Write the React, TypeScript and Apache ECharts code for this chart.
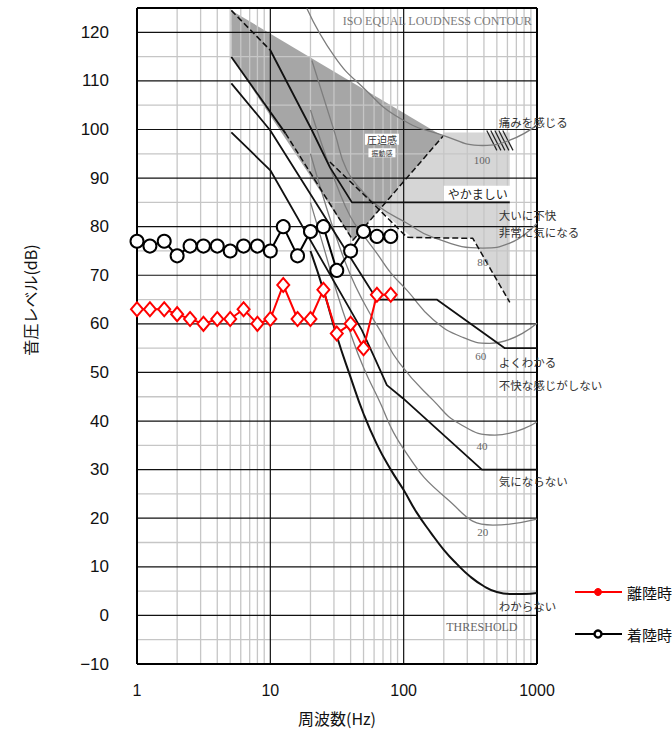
import { useEffect, useRef } from 'react';
import * as echarts from 'echarts';

// ---- measured series (1/3 octave bands) ----
const freqs = [1, 1.25, 1.6, 2, 2.5, 3.15, 4, 5, 6.3, 8, 10, 12.5, 16, 20, 25, 31.5, 40, 50, 63, 80];
const takeoff = [63, 63, 63, 62, 61, 60, 61, 61, 63, 60, 61, 68, 61, 61, 67, 58, 60, 55, 66, 66];
const landing = [77, 76, 77, 74, 76, 76, 76, 75, 76, 76, 75, 80, 74, 79, 80, 71, 75, 79, 78, 78];

// ---- axes ----
const xMin = 1, xMax = 1000, yMin = -10, yMax = 125;
const minorFreqs = [2, 3, 4, 5, 6, 7, 8, 9, 20, 30, 40, 50, 60, 70, 80, 90, 200, 300, 400, 500, 600, 700, 800, 900];
const majorFreqs = [10, 100];
const minorLevels = [-5, 5, 15, 25, 35, 45, 55, 65, 75, 85, 95, 105, 115];
const majorLevels = [0, 10, 20, 30, 40, 50, 60, 70, 80, 90, 100, 110, 120];
const frameFreqs = [1, 1000];
const frameLevels = [-10, 125];

// ---- background zones [Hz, dB] ----
const pressureZone = [[5.1, 124.5], [5.1, 114.9], [41.6, 77.2], [197, 98.6]];
const noisyZone = [[197, 99.4], [625, 99.4], [625, 64.5], [330, 77.6], [117, 77.6], [66.3, 83.6], [197, 98.6]];

// ---- ISO equal loudness contours [Hz, dB] ----
const phon100 = [[18.8, 124.9], [30.5, 114.9], [49.4, 108.7], [93.7, 102.3], [197, 98.8], [392, 96.7], [625, 97.8], [1000, 100.9]];
const phon80 = [[20.5, 114.2], [30.5, 99.2], [37.5, 91.6], [49.4, 87.2], [66.3, 84], [106, 80.7], [166, 77.8], [392, 75.6], [625, 76.6], [1000, 80.7]];
const phon60 = [[20, 104], [25, 96], [31.5, 88.5], [40, 82], [50, 78.2], [63, 74.5], [80, 70.5], [106, 66.9], [166, 60.9], [278, 57.2], [443, 56], [1000, 60.1]];
const phon40 = [[20, 95], [25, 86], [31.5, 77.5], [40, 70], [50, 64.5], [66.3, 58.7], [93.7, 51.8], [166, 44.3], [264, 39.4], [483, 37.1], [1000, 39.8]];
const phon20 = [[20, 85], [25, 76], [31.5, 66.5], [40, 58], [50, 51], [63, 45.2], [98.6, 34.5], [211, 24], [467, 18.6], [1000, 19.8]];
const threshold = [[20, 75], [25, 67], [31.5, 57.5], [40, 49], [50, 41.5], [63, 35.2], [80, 30], [100, 25.8], [125, 21.2], [160, 17], [200, 13.5], [250, 10.6], [315, 8], [400, 6], [500, 4.8], [630, 4.4], [800, 4.4], [1000, 4.6]];

// ---- response boundaries [Hz, dB] ----
const ooiDash = [[5.1, 124.5], [10, 116.3]];
const ooiLine = [[10, 116.3], [20.2, 100.2], [28, 92.2], [40.9, 85], [625, 85]];
const edgeSolid = [[5.1, 114.9], [13, 99.2]];
const edgeDash = [[13, 99.2], [41.6, 77.2], [197, 98.6]];
const noisyDash = [[28, 93.3], [55.8, 85.4], [106, 77.8], [330, 77.6], [625, 64.4]];
const yokuLine = [[5.1, 109.5], [10, 99.8], [63, 65], [177, 65], [574, 55], [1000, 55]];
const kiniLine = [[5.1, 99.4], [10, 91.6], [48.6, 58.7], [60.8, 52.9], [74.8, 47.4], [98.6, 44.7], [386, 30], [1000, 30]];
const painHatch = [[420, 99.8, 500, 95.7], [450, 99.8, 536, 95.7], [483, 99.8, 574, 95.7], [517, 99.8, 615, 95.7], [554, 99.8, 661, 95.7]];

// ---- annotations [Hz, dB, text, kind] ----
const notes: [number, number, string, string][] = [
  [914, 122.4, 'ISO EQUAL LOUDNESS CONTOUR', 'isoTitle'],
  [68.7, 98.0, '圧迫感', 'boxBig'],
  [68.7, 95.2, '振動感', 'boxSmall'],
  [386, 93.7, '100', 'num'],
  [360, 86.9, 'やかましい', 'boxMid'],
  [517, 101.5, '痛みを感じる', 'jp'],
  [517, 82.3, '大いに不快', 'jp'],
  [517, 78.8, '非常に気になる', 'jp'],
  [392, 72.7, '80', 'num'],
  [379, 53.3, '60', 'num'],
  [517, 52.1, 'よくわかる', 'jp'],
  [517, 47.4, '不快な感じがしない', 'jp'],
  [386, 34.8, '40', 'num'],
  [517, 27.6, '気にならない', 'jp'],
  [392, 17.1, '20', 'num'],
  [517, 1.9, 'わからない', 'jp'],
  [386, -2.4, 'THRESHOLD', 'numC'],
];

const SERIF = '"Liberation Serif", "DejaVu Serif", serif';
const JP = '"Noto Sans CJK JP", sans-serif';

type GridLine = { dir: 'v' | 'h'; v: number; color: string; width: number };
const gridLines: GridLine[] = [
  ...minorFreqs.map((v) => ({ dir: 'v' as const, v, color: '#c6c6c6', width: 1.3 })),
  ...minorLevels.map((v) => ({ dir: 'h' as const, v, color: '#c6c6c6', width: 1.3 })),
  ...majorFreqs.map((v) => ({ dir: 'v' as const, v, color: '#111', width: 1.2 })),
  ...majorLevels.map((v) => ({ dir: 'h' as const, v, color: '#111', width: 1.2 })),
  ...frameFreqs.map((v) => ({ dir: 'v' as const, v, color: '#000', width: 2 })),
  ...frameLevels.map((v) => ({ dir: 'h' as const, v, color: '#000', width: 2 })),
];

function curve(name: string, data: number[][], color: string, width: number, smooth: boolean, dashed = false) {
  return {
    name,
    type: 'line',
    data,
    showSymbol: false,
    symbol: 'none',
    smooth: smooth ? 0.5 : false,
    silent: true,
    z: 3,
    clip: true,
    lineStyle: { color, width, type: dashed ? [6, 3] : 'solid' },
  };
}

export default function App() {
  const ref = useRef<HTMLDivElement>(null);
  useEffect(() => {
    if (!ref.current) return;
    const chart = echarts.init(ref.current, null, { renderer: 'svg' });
    const zones = [
      { pts: noisyZone, fill: '#d6d6d6' },
      { pts: pressureZone, fill: '#a6a6a6' },
    ];
    const noteStyle = (kind: string) => {
      switch (kind) {
        case 'isoTitle':
          return { font: `12px ${SERIF}`, fill: '#7a7a7a', align: 'right' };
        case 'boxBig':
          return { font: `10px ${JP}`, fill: '#333', align: 'center', backgroundColor: '#fff', padding: [0, 2, 0, 2], lineHeight: 11 };
        case 'boxSmall':
          return { font: `7px ${JP}`, fill: '#333', align: 'center', backgroundColor: '#fff', padding: [0, 3, 1, 3], lineHeight: 8 };
        case 'boxMid':
          return { font: `12px ${JP}`, fill: '#222', align: 'center', backgroundColor: '#fff', padding: [2, 4, 1, 4] };
        case 'num':
          return { font: `11px ${SERIF}`, fill: '#666', align: 'center' };
        case 'numC':
          return { font: `12px ${SERIF}`, fill: '#666', align: 'center' };
        default:
          return { font: `11.5px ${JP}`, fill: '#333', align: 'left' };
      }
    };
    chart.setOption({
      animation: false,
      grid: { left: 137, right: 135, top: 8, bottom: 76, containLabel: false },
      xAxis: {
        type: 'log',
        logBase: 10,
        min: xMin,
        max: xMax,
        axisLine: { show: false },
        axisTick: { show: false },
        splitLine: { show: false },
        minorSplitLine: { show: false },
        axisLabel: {
          fontSize: 16,
          color: '#111',
          margin: 18,
          fontFamily: '"Liberation Sans", Arial, sans-serif',
          formatter: (v: number) => String(Math.round(v)),
        },
      },
      yAxis: {
        type: 'value',
        min: yMin,
        max: yMax,
        interval: 10,
        axisLine: { show: false },
        axisTick: { show: false },
        splitLine: { show: false },
        axisLabel: {
          fontSize: 17,
          color: '#111',
          margin: 28,
          fontFamily: '"Liberation Sans", Arial, sans-serif',
          formatter: (v: number) => (v > 120 ? '' : v < 0 ? '\u2212' + Math.abs(v) : String(v)),
        },
      },
      graphic: [
        { type: 'text', x: 30, y: 300, rotation: Math.PI / 2, style: { text: '音圧レベル(dB)', font: `16px ${JP}`, fill: '#111', align: 'center', verticalAlign: 'middle' } },
        { type: 'text', x: 337, y: 718, style: { text: '周波数(Hz)', font: `16px ${JP}`, fill: '#111', align: 'center', verticalAlign: 'middle' } },
        { type: 'line', shape: { x1: 575, y1: 592, x2: 622, y2: 592 }, style: { stroke: '#ff0000', lineWidth: 2 } },
        { type: 'circle', shape: { cx: 598, cy: 592, r: 3.5 }, style: { fill: '#ff0000', stroke: '#ff0000', lineWidth: 1 } },
        { type: 'text', x: 627, y: 592, style: { text: '離陸時', font: `15px ${JP}`, fill: '#111', verticalAlign: 'middle' } },
        { type: 'line', shape: { x1: 575, y1: 634, x2: 622, y2: 634 }, style: { stroke: '#000', lineWidth: 2 } },
        { type: 'circle', shape: { cx: 598, cy: 634, r: 3.5 }, style: { fill: '#fff', stroke: '#000', lineWidth: 2.5 } },
        { type: 'text', x: 627, y: 634, style: { text: '着陸時', font: `15px ${JP}`, fill: '#111', verticalAlign: 'middle' } },
      ],
      series: [
        {
          name: 'zones',
          type: 'custom',
          silent: true,
          z: 1,
          data: zones.map((zn) => zn.pts[0]),
          renderItem: (params: any, api: any) => {
            const zn = zones[params.dataIndex];
            return { type: 'polygon', shape: { points: zn.pts.map((p) => api.coord(p)) }, style: { fill: zn.fill } };
          },
        },
        {
          name: 'grid',
          type: 'custom',
          silent: true,
          z: 2,
          data: gridLines.map((l) => (l.dir === 'v' ? [l.v, yMin] : [xMin, l.v])),
          renderItem: (params: any, api: any) => {
            const l = gridLines[params.dataIndex];
            const a = l.dir === 'v' ? api.coord([l.v, yMin]) : api.coord([xMin, l.v]);
            const b = l.dir === 'v' ? api.coord([l.v, yMax]) : api.coord([xMax, l.v]);
            return { type: 'line', shape: { x1: a[0], y1: a[1], x2: b[0], y2: b[1] }, style: { stroke: l.color, lineWidth: l.width } };
          },
        },
        curve('phon100', phon100, '#7d7d7d', 1.3, true),
        curve('phon80', phon80, '#7d7d7d', 1.3, true),
        curve('phon60', phon60, '#7d7d7d', 1.3, true),
        curve('phon40', phon40, '#7d7d7d', 1.3, true),
        curve('phon20', phon20, '#7d7d7d', 1.3, true),
        curve('threshold', threshold, '#111', 2, true),
        curve('ooiDash', ooiDash, '#111', 1.6, false, true),
        curve('ooi', ooiLine, '#111', 1.8, false),
        curve('edgeSolid', edgeSolid, '#111', 1.8, false),
        curve('edgeDash', edgeDash, '#111', 1.5, false, true),
        curve('noisyDash', noisyDash, '#111', 1.5, false, true),
        curve('yoku', yokuLine, '#111', 1.8, false),
        curve('kini', kiniLine, '#111', 1.8, false),
        {
          name: 'hatch',
          type: 'custom',
          silent: true,
          z: 3,
          data: painHatch.map((h) => [h[0], h[1]]),
          renderItem: (params: any, api: any) => {
            const h = painHatch[params.dataIndex];
            const a = api.coord([h[0], h[1]]);
            const b = api.coord([h[2], h[3]]);
            return { type: 'line', shape: { x1: a[0], y1: a[1], x2: b[0], y2: b[1] }, style: { stroke: '#222', lineWidth: 1.2 } };
          },
        },
        {
          name: 'notes',
          type: 'custom',
          silent: true,
          z: 4,
          data: notes.map((n) => [n[0], n[1]]),
          renderItem: (params: any, api: any) => {
            const n = notes[params.dataIndex];
            const p = api.coord([n[0], n[1]]);
            return { type: 'text', x: p[0], y: p[1], style: { text: n[2], verticalAlign: 'middle', ...noteStyle(n[3]) } };
          },
        },
        {
          name: '着陸時',
          type: 'line',
          z: 10,
          data: freqs.map((f, i) => [f, landing[i]]),
          symbol: 'circle',
          symbolSize: 13,
          lineStyle: { color: '#000', width: 2 },
          itemStyle: { color: '#fff', borderColor: '#000', borderWidth: 2 },
        },
        {
          name: '離陸時',
          type: 'line',
          z: 10,
          data: freqs.map((f, i) => [f, takeoff[i]]),
          symbol: 'diamond',
          symbolSize: [12, 14],
          lineStyle: { color: '#ff0000', width: 2 },
          itemStyle: { color: '#fff', borderColor: '#ff0000', borderWidth: 2 },
        },
      ],
    });
    return () => chart.dispose();
  }, []);
  return <div ref={ref} style={{ position: 'fixed', left: 0, top: 0, width: 672, height: 740, background: '#fff' }} />;
}
